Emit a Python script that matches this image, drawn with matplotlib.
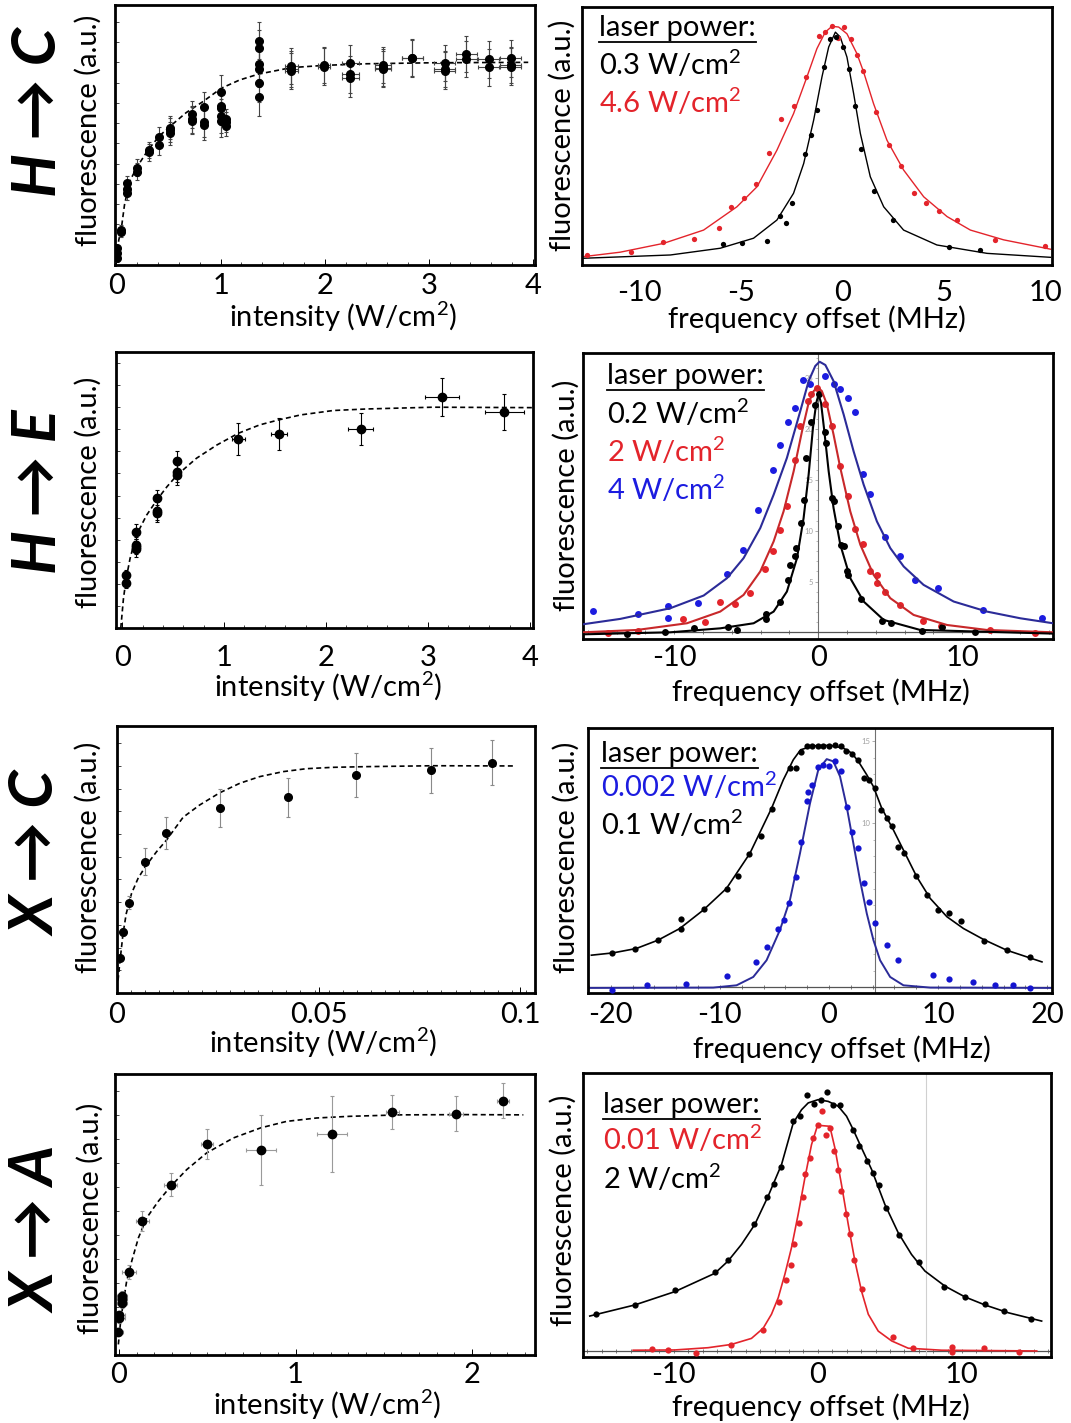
import matplotlib
matplotlib.use("Agg")
import matplotlib.pyplot as plt
from matplotlib.ticker import MultipleLocator, NullFormatter
from matplotlib.lines import Line2D

plt.rcParams['font.family'] = ['Lato', 'DejaVu Sans']
plt.rcParams['axes.unicode_minus'] = False
plt.rcParams['mathtext.default'] = 'regular'

# ---------------- data ----------------
# H -> C saturation
hc_sat_x = [0.003, 0.003, 0.003, 0.045, 0.045, 0.099, 0.099, 0.099, 0.199, 0.199,
            0.308, 0.308, 0.413, 0.413, 0.519, 0.519, 0.519, 0.728, 0.728, 0.728,
            0.837, 0.837, 0.837, 1.006, 1.006, 1.006, 1.006, 1.006, 1.048, 1.048,
            1.048, 1.365, 1.365, 1.365, 1.365, 1.365, 1.365, 1.679, 1.679, 1.679,
            1.994, 1.994, 2.247, 2.247, 2.247, 2.561, 2.561, 2.561, 2.840, 2.840,
            3.154, 3.154, 3.154, 3.362, 3.362, 3.577, 3.577, 3.788, 3.788, 3.788]
hc_sat_y = [0.082, 0.058, 0.033, 0.173, 0.164, 0.406, 0.373, 0.354, 0.480, 0.461,
            0.567, 0.556, 0.633, 0.592, 0.678, 0.666, 0.650, 0.743, 0.719, 0.712,
            0.778, 0.707, 0.691, 0.855, 0.785, 0.773, 0.735, 0.712, 0.719, 0.707,
            0.686, 1.107, 1.072, 0.990, 0.967, 0.896, 0.827, 0.982, 0.967, 0.957,
            0.987, 0.979, 0.998, 0.941, 0.921, 0.987, 0.974, 0.967, 1.023, 1.020,
            0.998, 0.967, 0.959, 1.041, 1.016, 1.015, 0.975, 1.020, 0.987, 0.979]
hc_sat_yerr = [0.016, 0.016, 0.016, 0.025, 0.025, 0.033, 0.033, 0.033, 0.041, 0.041,
               0.041, 0.041, 0.049, 0.049, 0.058, 0.058, 0.058, 0.066, 0.066, 0.066,
               0.074, 0.074, 0.074, 0.082, 0.082, 0.082, 0.082, 0.082, 0.05, 0.05,
               0.05, 0.09, 0.09, 0.09, 0.09, 0.09, 0.09, 0.09, 0.09, 0.09,
               0.09, 0.09, 0.09, 0.09, 0.09, 0.09, 0.09, 0.09, 0.09, 0.09,
               0.09, 0.09, 0.09, 0.09, 0.09, 0.09, 0.09, 0.09, 0.09, 0.09]
hc_sat_xerr = [0.012, 0.012, 0.012, 0.012, 0.012, 0.012, 0.012, 0.012, 0.012, 0.012,
               0.012, 0.012, 0.012, 0.012, 0.012, 0.012, 0.012, 0.012, 0.012, 0.012,
               0.012, 0.012, 0.012, 0.012, 0.012, 0.012, 0.012, 0.012, 0.012, 0.012,
               0.012, 0.015, 0.015, 0.015, 0.015, 0.015, 0.015, 0.06, 0.06, 0.06,
               0.06, 0.06, 0.08, 0.08, 0.08, 0.08, 0.08, 0.08, 0.1, 0.1,
               0.1, 0.1, 0.1, 0.1, 0.1, 0.1, 0.1, 0.1, 0.1, 0.1]
hc_fit_x = [0.003, 0.022, 0.045, 0.077, 0.125, 0.199, 0.308, 0.413, 0.519, 0.670,
            0.830, 1.006, 1.183, 1.365, 1.679, 1.994, 2.401, 3.042, 3.955]
hc_fit_y = [0.033, 0.123, 0.173, 0.296, 0.411, 0.485, 0.571, 0.637, 0.686, 0.752,
            0.806, 0.872, 0.913, 0.942, 0.974, 0.985, 0.993, 0.998, 1.000]

# H -> C frequency scans
hc_red_x = [-12.55, -10.41, -8.83, -7.29, -6.06, -5.47, -4.86, -4.25, -3.60, -3.00,
            -2.36, -1.77, -1.13, -0.84, -0.51, 0.10, -0.21, 0.43, 0.72, 1.00,
            1.66, 2.28, 2.89, 3.51, 4.12, 4.75, 5.65, 7.50, 10.00]
hc_red_y = [0.014, 0.026, 0.071, 0.083, 0.131, 0.220, 0.260, 0.317, 0.450, 0.600,
            0.653, 0.779, 0.954, 0.971, 0.997, 0.993, 0.946, 0.943, 0.871, 0.804,
            0.629, 0.486, 0.397, 0.281, 0.236, 0.203, 0.164, 0.079, 0.054]
hc_blk_x = [-5.88, -4.94, -3.71, -3.09, -2.76, -2.48, -1.82, -1.54, -1.25, -0.92,
            -0.59, -0.31, 0.02, 0.31, 0.61, 0.92, 1.54, 2.48, 5.24, 6.80]
hc_blk_y = [0.060, 0.064, 0.076, 0.183, 0.150, 0.236, 0.447, 0.529, 0.636, 0.821,
            0.940, 0.950, 0.907, 0.814, 0.654, 0.469, 0.289, 0.164, 0.047, 0.036]
hc_red_fit_x = [-12.74, -10.94, -8.80, -6.83, -5.19, -4.20, -3.22, -2.40, -1.74, -1.25,
                -0.84, -0.51, -0.18, 0.23, 0.72, 1.05, 1.54, 2.20, 3.02, 4.01,
                5.16, 6.31, 7.95, 10.25]
hc_red_fit_y = [0.007, 0.026, 0.064, 0.121, 0.221, 0.307, 0.464, 0.621, 0.779, 0.900,
                0.971, 0.996, 0.993, 0.964, 0.879, 0.800, 0.664, 0.507, 0.379, 0.264,
                0.179, 0.121, 0.079, 0.039]
hc_blk_fit_x = [-12.74, -8.47, -6.01, -4.37, -3.22, -2.40, -1.90, -1.41, -1.00, -0.67,
                -0.34, -0.10, 0.23, 0.56, 0.89, 1.38, 2.04, 3.02, 4.66, 7.13, 10.25]
hc_blk_fit_y = [0.000, 0.014, 0.043, 0.086, 0.164, 0.279, 0.407, 0.593, 0.779, 0.907,
                0.971, 0.950, 0.864, 0.707, 0.536, 0.350, 0.221, 0.121, 0.057, 0.021, 0.004]

# H -> E saturation
he_sat_x = [0.04, 0.04, 0.14, 0.14, 0.14, 0.14, 0.34, 0.34, 0.34, 0.54, 0.54, 0.54,
            1.14, 1.54, 2.34, 3.14, 3.75]
he_sat_y = [0.239, 0.206, 0.436, 0.378, 0.368, 0.357, 0.587, 0.530, 0.519, 0.758,
            0.708, 0.693, 0.856, 0.877, 0.900, 1.045, 0.977]
he_sat_yerr = [0.023, 0.023, 0.035, 0.035, 0.035, 0.035, 0.04, 0.04, 0.04, 0.045,
               0.045, 0.045, 0.071, 0.072, 0.073, 0.087, 0.082]
he_sat_xerr = [0.01, 0.01, 0.01, 0.01, 0.01, 0.01, 0.01, 0.01, 0.01, 0.015,
               0.015, 0.015, 0.065, 0.08, 0.125, 0.165, 0.19]
he_fit_x = [-0.013, 0.013, 0.04, 0.078, 0.14, 0.24, 0.34, 0.44, 0.54, 0.73,
            0.93, 1.14, 1.35, 1.54, 1.75, 2.07, 2.40, 3.05, 4.03]
he_fit_y = [0.0, 0.133, 0.224, 0.315, 0.421, 0.511, 0.579, 0.640, 0.693, 0.769,
            0.829, 0.882, 0.920, 0.943, 0.965, 0.985, 0.992, 1.0, 0.998]

# H -> E frequency scans
he_blue_x = [-15.65, -12.52, -10.44, -10.44, -8.36, -6.34, -5.25, -4.19, -3.15, -2.64,
             -2.11, -1.64, -1.09, -0.56, 0.49, 1.06, 1.53, 2.06, 2.57, 3.10,
             3.56, 4.61, 5.69, 6.74, 8.31, 11.44, 15.53]
he_blue_y = [2.11, 1.78, 2.60, 1.45, 2.86, 5.72, 8.13, 12.01, 15.95, 18.49,
             20.69, 22.04, 24.84, 24.41, 25.23, 24.47, 23.91, 23.03, 21.68, 15.63,
             13.62, 9.38, 7.47, 5.16, 4.41, 2.20, 1.45]
he_red_x = [-14.61, -12.52, -9.40, -7.85, -6.81, -5.81, -4.72, -3.68, -3.15, -2.64,
            -2.18, -1.64, -1.25, -0.72, -0.49, -0.09, 0.44, 0.95, 1.53, 2.06,
            2.57, 3.10, 3.61, 4.07, 4.07, 4.65, 5.69, 7.27, 8.54, 11.90, 15.07]
he_red_y = [-0.10, 0.13, 1.28, 1.05, 3.03, 2.80, 3.85, 6.25, 7.96, 10.10,
            12.40, 17.01, 20.36, 22.76, 23.49, 24.08, 22.50, 20.30, 16.35, 13.39,
            10.16, 8.72, 5.99, 5.66, 4.84, 4.01, 2.70, 1.12, 0.63, 0.23, -0.10]
he_blk_x = [-13.26, -10.67, -8.66, -6.27, -5.65, -3.61, -3.61, -2.64, -2.11, -1.99,
            -1.64, -1.55, -1.18, -1.02, -0.83, -0.51, -0.21, 0.02, 0.49, 0.56,
            0.95, 1.06, 1.37, 1.58, 1.76, 1.99, 2.06, 2.99, 4.42, 5.05, 7.20, 8.59, 10.86]
he_blk_y = [-0.13, 0.07, 0.46, 0.56, 0.23, 1.32, 1.78, 2.96, 5.16, 6.64,
            7.47, 8.29, 10.76, 13.06, 17.17, 20.72, 22.37, 23.42, 19.74, 18.59,
            13.22, 12.89, 10.49, 8.62, 8.45, 5.99, 5.66, 3.29, 1.12, 0.95, 0.16, 0.56, 0.00]
he_blue_fit_x = [-16.34, -13.75, -10.28, -7.96, -6.34, -5.19, -4.03, -3.10, -2.18, -1.25,
                 -0.67, -0.21, 0.09, 0.49, 1.06, 1.76, 2.45, 3.15, 4.07, 5.00,
                 5.93, 7.31, 9.40, 11.71, 14.03, 16.30]
he_blue_fit_y = [0.79, 1.32, 2.37, 3.62, 5.33, 7.30, 10.26, 13.55, 17.17, 21.78,
                 24.74, 26.22, 26.64, 26.32, 24.74, 21.45, 17.83, 14.54, 10.92, 8.29,
                 6.48, 4.67, 3.03, 2.04, 1.38, 0.89]
he_red_fit_x = [-16.34, -12.59, -9.12, -6.81, -5.19, -4.03, -3.10, -2.41, -1.71, -1.13,
                -0.67, -0.32, -0.05, 0.25, 0.60, 1.06, 1.53, 2.22, 2.92, 3.84,
                5.00, 6.62, 8.94, 11.71, 16.30]
he_red_fit_y = [0.00, 0.23, 0.89, 2.04, 3.68, 5.99, 8.95, 11.91, 15.86, 19.80,
                22.60, 23.75, 24.14, 23.75, 22.43, 19.47, 16.18, 11.91, 8.62, 5.66,
                3.36, 1.71, 0.72, 0.23, 0.00]
he_blk_fit_x = [-16.34, -10.28, -6.81, -4.49, -3.10, -2.18, -1.48, -1.02, -0.67, -0.37,
                -0.14, 0.02, 0.19, 0.42, 0.72, 1.06, 1.53, 2.22, 3.15, 4.54, 7.08, 16.30]
he_blk_fit_y = [-0.20, 0.00, 0.39, 0.89, 2.04, 4.01, 7.30, 11.25, 15.53, 20.13,
                22.60, 23.42, 22.60, 19.80, 15.86, 12.24, 8.62, 5.33, 3.03, 1.22, 0.23, -0.13]

# X -> C saturation
xc_sat_x = [0.00084, 0.0015, 0.0029, 0.0070, 0.0121, 0.0255, 0.0425, 0.0593, 0.0778, 0.0931]
xc_sat_y = [0.154, 0.269, 0.397, 0.578, 0.706, 0.813, 0.862, 0.960, 0.982, 1.015]
xc_sat_yerr = [0.012, 0.018, 0.029, 0.059, 0.071, 0.084, 0.085, 0.096, 0.099, 0.10]
xc_sat_xerr = [0.0004, 0.0004, 0.0004, 0.0004, 0.0004, 0.0004, 0.0004, 0.0004, 0.0004, 0.0004]
xc_fit_x = [0.00026, 0.00067, 0.0015, 0.0023, 0.0036, 0.0052, 0.0070, 0.0098, 0.0123, 0.0164,
            0.0205, 0.0255, 0.0305, 0.0354, 0.0412, 0.0470, 0.0536, 0.0619, 0.0785, 0.0988]
xc_fit_y = [0.056, 0.129, 0.262, 0.350, 0.438, 0.504, 0.556, 0.622, 0.674, 0.774,
            0.828, 0.882, 0.924, 0.953, 0.975, 0.988, 0.994, 0.997, 1.001, 1.0]

# X -> C frequency scans
xc_blk_x = [-19.88, -17.74, -15.66, -13.58, -13.58, -11.44, -9.39, -8.32, -7.31, -6.24,
            -5.26, -3.58, -3.06, -2.60, -2.05, -1.53, -1.04, -0.52, 0.00, 0.55,
            1.07, 1.56, 2.14, 2.69, 3.21, 3.70, 4.22, 4.77, 5.29, 5.81,
            6.36, 6.88, 7.95, 8.96, 10.03, 11.01, 12.08, 14.22, 16.30, 18.38]
xc_blk_y = [2.10, 2.31, 2.86, 3.51, 4.18, 4.76, 5.98, 6.80, 8.10, 9.22,
            10.86, 13.37, 13.37, 14.35, 14.73, 14.73, 14.73, 14.73, 14.73, 14.80,
            14.69, 14.43, 14.22, 13.88, 12.76, 12.65, 12.14, 10.82, 10.35, 9.84,
            8.57, 8.16, 6.78, 5.61, 4.73, 4.49, 4.04, 2.82, 2.24, 1.80]
xc_blue_x = [-19.88, -16.64, -13.06, -9.39, -6.73, -5.66, -4.65, -4.10, -3.64, -3.06,
             -2.60, -2.05, -1.96, -1.53, -1.04, -0.52, 0.00, 0.55, 1.10, 1.62,
             2.14, 2.69, 3.21, 3.70, 4.22, 5.29, 6.36, 9.51, 11.01, 13.18,
             15.23, 16.85, 18.38]
xc_blue_y = [-0.16, 0.10, 0.20, 0.65, 1.53, 2.41, 3.57, 4.08, 5.10, 6.73,
             8.88, 11.39, 11.94, 12.35, 13.41, 13.53, 13.47, 13.78, 13.22, 10.98,
             9.45, 8.47, 6.33, 5.20, 3.88, 2.55, 1.67, 0.76, 0.51, 0.31,
             0.10, 0.10, -0.06]
xc_blk_fit_x = [-21.77, -19.79, -17.65, -15.66, -13.67, -11.53, -9.39, -7.25, -5.26, -4.19,
                -3.27, -2.60, -1.44, 0.09, 1.31, 2.08, 2.69, 3.46, 4.07, 4.83,
                5.90, 6.97, 8.04, 9.27, 10.80, 12.32, 14.16, 16.30, 19.51]
xc_blk_fit_y = [1.94, 2.08, 2.35, 2.86, 3.57, 4.69, 6.02, 8.16, 10.92, 12.65,
                13.88, 14.49, 14.73, 14.76, 14.59, 14.29, 13.78, 12.96, 12.24, 10.92,
                9.59, 8.16, 6.73, 5.41, 4.29, 3.57, 2.90, 2.24, 1.53]
xc_blue_fit_x = [-22.08, -10.61, -8.47, -6.94, -5.72, -4.50, -3.58, -2.66, -1.74, -0.98,
                 -0.21, 0.40, 1.01, 1.62, 2.23, 2.84, 3.46, 4.07, 4.68, 5.60,
                 6.82, 9.27, 20.43]
xc_blue_fit_y = [-0.06, -0.04, 0.10, 0.61, 1.63, 3.47, 5.31, 8.16, 11.22, 13.27,
                 13.92, 13.78, 12.86, 11.02, 8.78, 6.53, 4.49, 2.86, 1.63, 0.61,
                 0.10, -0.04, -0.06]

# X -> A saturation
xa_sat_x = [-0.004, 0.0, 0.0, 0.015, 0.015, 0.015, 0.057, 0.132, 0.293, 0.497,
            0.803, 1.205, 1.549, 1.909, 2.174]
xa_sat_y = [0.097, 0.166, 0.152, 0.217, 0.231, 0.245, 0.346, 0.557, 0.709, 0.878,
            0.852, 0.920, 1.011, 1.004, 1.058]
xa_sat_yerr = [0.014, 0.017, 0.017, 0.021, 0.021, 0.021, 0.028, 0.042, 0.048, 0.062,
               0.145, 0.159, 0.072, 0.072, 0.072]
xa_sat_xerr = [0.028, 0.034, 0.034, 0.028, 0.028, 0.028, 0.038, 0.038, 0.038, 0.034,
               0.085, 0.085, 0.038, 0.038, 0.034]
xa_fit_x = [-0.004, 0.009, 0.025, 0.043, 0.072, 0.110, 0.157, 0.223, 0.293, 0.383,
            0.497, 0.648, 0.803, 0.950, 1.120, 1.309, 1.592, 1.970, 2.291]
xa_fit_y = [0.044, 0.141, 0.224, 0.307, 0.391, 0.488, 0.571, 0.640, 0.702, 0.771,
            0.841, 0.903, 0.945, 0.972, 0.986, 0.993, 0.999, 1.000, 0.999]

# X -> A frequency scans
xa_blk_x = [-15.37, -12.66, -9.93, -7.15, -6.27, -4.42, -3.52, -3.03, -2.59, -1.71,
            -1.25, -0.74, -0.28, 0.19, 0.65, 1.06, 1.53, 2.45, 2.87, 3.38,
            3.80, 4.24, 4.70, 5.63, 7.01, 8.77, 10.21, 11.60, 12.94, 14.77]
xa_blk_y = [0.146, 0.183, 0.242, 0.315, 0.360, 0.506, 0.612, 0.666, 0.732, 0.914,
            0.936, 1.017, 0.984, 0.997, 1.030, 0.980, 0.980, 0.878, 0.815, 0.755,
            0.707, 0.662, 0.567, 0.461, 0.354, 0.256, 0.216, 0.185, 0.158, 0.126]
xa_red_x = [-11.48, -10.39, -8.47, -6.00, -3.84, -2.71, -2.22, -1.88, -1.64, -1.32,
            -1.06, -0.86, -0.56, -0.32, -0.02, 0.30, 0.56, 0.83, 1.11, 1.37,
            1.64, 1.94, 2.22, 2.50, 3.03, 5.23, 6.57, 9.33, 9.33, 11.55, 13.98]
xa_red_y = [0.009, 0.003, -0.009, 0.023, 0.083, 0.195, 0.282, 0.344, 0.424, 0.510,
            0.612, 0.705, 0.766, 0.848, 0.898, 0.954, 0.861, 0.887, 0.795, 0.719,
            0.636, 0.546, 0.466, 0.360, 0.248, 0.057, 0.011, 0.016, -0.003, 0.013, -0.004]
xa_red_fit_x = [-12.82, -9.93, -7.62, -6.00, -4.61, -3.80, -3.22, -2.75, -2.29, -1.83,
                -1.37, -0.90, -0.44, -0.02, 0.83, 1.18, 1.64, 2.11, 2.57, 3.03,
                3.50, 4.19, 5.12, 6.27, 8.59, 15.19]
xa_red_fit_y = [0.003, 0.004, 0.013, 0.026, 0.050, 0.090, 0.146, 0.212, 0.305, 0.411,
                0.543, 0.689, 0.821, 0.898, 0.894, 0.808, 0.662, 0.503, 0.358, 0.238,
                0.146, 0.079, 0.040, 0.011, 0.003, 0.000]
xa_blk_fit_x = [-15.83, -12.71, -9.93, -7.15, -6.23, -5.30, -4.38, -3.45, -2.52, -1.71,
                -1.13, -0.67, 0.02, 0.72, 1.41, 1.99, 2.45, 3.03, 3.73, 4.65,
                5.58, 6.50, 7.43, 8.82, 10.21, 11.60, 13.22, 15.53]
xa_blk_fit_y = [0.139, 0.183, 0.236, 0.309, 0.358, 0.424, 0.503, 0.616, 0.742, 0.907,
                0.960, 0.987, 1.000, 0.993, 0.974, 0.934, 0.881, 0.808, 0.722, 0.583,
                0.470, 0.384, 0.318, 0.258, 0.215, 0.183, 0.152, 0.119]

row_labels = ['H → C', 'H → E', 'X → C', 'X → A']

# ---------------- figure ----------------
W, H = 1071, 1423
FS = 21
LFS = 21
RED = '#e3242b'
BLUE = '#1c1ce0'
NAVY = '#2b2b98'

fig = plt.figure(figsize=(W / 100, H / 100), dpi=100)


def px_axes(left, top, right, bottom):
    return fig.add_axes([left / W, 1 - bottom / H, (right - left) / W, (bottom - top) / H])


def set_labels(ax, xlabel, xpos, ylabel, ypos):
    ax.set_xlabel(xlabel, fontsize=FS)
    ax.xaxis.set_label_coords(xpos[0] / W, 1 - xpos[1] / H, transform=fig.transFigure)
    ax.xaxis.label.set_va('center')
    ax.set_ylabel('fluorescence (a.u.)', fontsize=FS)
    ax.yaxis.set_label_coords(ypos[0] / W, 1 - ypos[1] / H, transform=fig.transFigure)
    ax.yaxis.label.set_va('center')


def frame(ax):
    for s in ax.spines.values():
        s.set_linewidth(2.0)


def sat_panel(box, x, y, xerr, yerr, fx, fy, xlim, ylim, ticks, ticklabels,
              minor, pad, ecolor, ms, xlab_pos, ylab_pos):
    ax = px_axes(*box)
    ax.errorbar(x, y, yerr=yerr, xerr=xerr, fmt='o', color='black', ms=ms,
                ecolor=ecolor, elinewidth=0.8, capsize=1.5, capthick=0.8, zorder=3)
    ax.plot(fx, fy, color='black', lw=1.2, dashes=(3, 2), zorder=2)
    ax.set_xlim(*xlim)
    ax.set_ylim(*ylim)
    ax.set_xticks(ticks)
    ax.set_xticklabels(ticklabels)
    ax.xaxis.set_minor_locator(MultipleLocator(minor))
    ax.yaxis.set_major_locator(MultipleLocator(0.1))
    ax.tick_params(axis='x', which='major', direction='in', length=4, width=0.7,
                   labelsize=FS, pad=pad)
    ax.tick_params(axis='x', which='minor', direction='in', length=2, width=0.5)
    ax.tick_params(axis='y', direction='in', length=3, width=0.5, labelleft=False)
    frame(ax)
    set_labels(ax, 'intensity (W/cm$^2$)', xlab_pos, 'fluorescence (a.u.)', ylab_pos)
    return ax


def scan_panel(box, xlim, ylim, ticks, pad, xlab_pos, ylab_pos):
    ax = px_axes(*box)
    ax.set_xlim(*xlim)
    ax.set_ylim(*ylim)
    ax.set_xticks(ticks)
    ax.set_yticks([])
    ax.tick_params(axis='x', length=0, labelsize=FS, pad=pad)
    frame(ax)
    set_labels(ax, 'frequency offset (MHz)', xlab_pos, 'fluorescence (a.u.)', ylab_pos)
    return ax


def inner_yaxis(ax, x0, ticks, labels):
    xmin, xmax = ax.get_xlim()
    sec = ax.secondary_yaxis((x0 - xmin) / (xmax - xmin))
    sec.set_alignment('left')
    sec.set_yticks(ticks)
    sec.set_yticklabels(labels)
    sec.yaxis.set_minor_locator(MultipleLocator(1))
    sec.tick_params(which='major', length=2.5, width=0.6, colors='#a0a0a0',
                    labelsize=5.5, pad=1)
    sec.tick_params(which='minor', length=1.3, width=0.5, colors='#a0a0a0')
    for s in sec.spines.values():
        s.set_color('#707070')
        s.set_linewidth(0.8)


def inner_xaxis(ax, y0, step):
    ymin, ymax = ax.get_ylim()
    sec = ax.secondary_xaxis((y0 - ymin) / (ymax - ymin))
    sec.xaxis.set_major_locator(MultipleLocator(step))
    sec.xaxis.set_major_formatter(NullFormatter())
    sec.tick_params(length=3, width=0.6, colors='#666666', direction='inout')
    for s in sec.spines.values():
        s.set_color('#555555')
        s.set_linewidth(0.9)


def dots(ax, x, y, color, ms):
    ax.plot(x, y, 'o', color=color, ms=ms, mec='none', zorder=3)


# ---- row 1: H -> C ----
sat_panel((115, 5, 535, 265), hc_sat_x, hc_sat_y, hc_sat_xerr, hc_sat_yerr,
          hc_fit_x, hc_fit_y, (-0.014, 4.02), (0, 1.283), [0, 1, 2, 3, 4],
          ['0', '1', '2', '3', '4'], 0.2, 6, '#444444', 5.5, (343, 317), (88, 130))
ax = scan_panel((582, 7, 1052, 265), (-12.82, 10.33), (-0.029, 1.079),
                [-10, -5, 0, 5, 10], 10.5, (817, 319), (562, 135))
ax.plot(hc_red_fit_x, hc_red_fit_y, color=RED, lw=1.0)
ax.plot(hc_blk_fit_x, hc_blk_fit_y, color='black', lw=1.0)
dots(ax, hc_red_x, hc_red_y, RED, 3.8)
dots(ax, hc_blk_x, hc_blk_y, 'black', 3.8)

# ---- row 2: H -> E ----
sat_panel((116, 352, 533, 628), he_sat_x, he_sat_y, he_sat_xerr, he_sat_yerr,
          he_fit_x, he_fit_y, (-0.06, 4.03), (0, 1.25), [0, 1, 2, 3, 4],
          ['0', '1', '2', '3', '4'], 0.2, 12, 'black', 6, (328, 687), (88, 492))
ax = scan_panel((583, 353, 1053, 639), (-16.34, 16.30), (-0.66, 27.5),
                [-10, 0, 10], 4.5, (821, 692), (566, 495))
inner_yaxis(ax, 0, [5, 10, 15, 20, 25], ['5', '10', '15', '20', '25'])
inner_xaxis(ax, 0, 2)
dots(ax, he_blue_x, he_blue_y, BLUE, 5)
dots(ax, he_red_x, he_red_y, RED, 5)
dots(ax, he_blk_x, he_blk_y, 'black', 5)
ax.plot(he_blue_fit_x, he_blue_fit_y, color=NAVY, lw=1.5, zorder=4)
ax.plot(he_red_fit_x, he_red_fit_y, color='#c8282a', lw=1.5, zorder=4)
ax.plot(he_blk_fit_x, he_blk_fit_y, color='black', lw=1.5, zorder=4)

# ---- row 3: X -> C ----
sat_panel((117, 726, 535, 993), xc_sat_x, xc_sat_y, xc_sat_xerr, xc_sat_yerr,
          xc_fit_x, xc_fit_y, (0, 0.1037), (0, 1.176), [0, 0.05, 0.1],
          ['0', '0.05', '0.1'], 0.0035, 6.5, '#8a8a8a', 5.5, (323, 1043), (88, 857))
ax = scan_panel((588, 728, 1052, 993), (-22.08, 20.43), (-0.37, 15.82),
                [-20, -10, 0, 10, 20], 6.5, (842, 1049), (566, 857))
inner_yaxis(ax, 4.22, [10, 15], ['10', '15'])
inner_xaxis(ax, 0, 2)
ax.plot(xc_blk_fit_x, xc_blk_fit_y, color='black', lw=1.2)
ax.plot(xc_blue_fit_x, xc_blue_fit_y, color=NAVY, lw=1.4)
dots(ax, xc_blk_x, xc_blk_y, 'black', 4.5)
dots(ax, xc_blue_x, xc_blue_y, '#1414d0', 4.5)

# ---- row 4: X -> A ----
sat_panel((115, 1074, 535, 1355), xa_sat_x, xa_sat_y, xa_sat_xerr, xa_sat_yerr,
          xa_fit_x, xa_fit_y, (-0.023, 2.357), (0, 1.169), [0, 1, 2],
          ['0', '1', '2'], 0.1, 5, '#9a9a9a', 6, (327, 1405), (90, 1218))
ax = scan_panel((583, 1073, 1051, 1357), (-16.30, 16.18), (-0.024, 1.106),
                [-10, 0, 10], 3.5, (821, 1407), (563, 1210))
ax.axvline(7.48, color='#d0d0d0', lw=0.8, zorder=1)
inner_xaxis(ax, 0, 1)
ax.plot(xa_blk_fit_x, xa_blk_fit_y, color='black', lw=1.2)
ax.plot(xa_red_fit_x, xa_red_fit_y, color=RED, lw=1.2)
dots(ax, xa_blk_x, xa_blk_y, 'black', 4.5)
dots(ax, xa_red_x, xa_red_y, RED, 4.5)

# ---- row labels ----
for lab, yc in zip(row_labels, [112, 492, 854, 1230]):
    fig.text(38 / W, 1 - yc / H, lab, rotation=90, fontsize=44, fontweight='bold',
             fontstyle='italic', ha='center', va='center')

# ---- legends ----
legends = [
    (599, [36, 75, 113], [('0.3 W/cm$^2$', 'black'), ('4.6 W/cm$^2$', RED)]),
    (607, [384, 424, 462, 500], [('0.2 W/cm$^2$', 'black'), ('2 W/cm$^2$', RED),
                                 ('4 W/cm$^2$', BLUE)]),
    (601, [762, 797, 835], [('0.002 W/cm$^2$', BLUE), ('0.1 W/cm$^2$', 'black')]),
    (603, [1113, 1150, 1189], [('0.01 W/cm$^2$', RED), ('2 W/cm$^2$', 'black')]),
]
heads = []
for x0, ys, entries in legends:
    heads.append(fig.text(x0 / W, 1 - ys[0] / H, 'laser power:', fontsize=LFS, va='baseline'))
    for (txt, col), yb in zip(entries, ys[1:]):
        fig.text(x0 / W, 1 - yb / H, txt, fontsize=LFS, color=col, va='baseline')

fig.canvas.draw()
for t, (x0, ys, _) in zip(heads, legends):
    bb = t.get_window_extent()
    yline = (H - ys[0] - 6) / H
    fig.add_artist(Line2D([bb.x0 / W, bb.x1 / W], [yline, yline], color='black',
                          lw=1.3, transform=fig.transFigure))

fig.savefig('out.png', dpi=100)
